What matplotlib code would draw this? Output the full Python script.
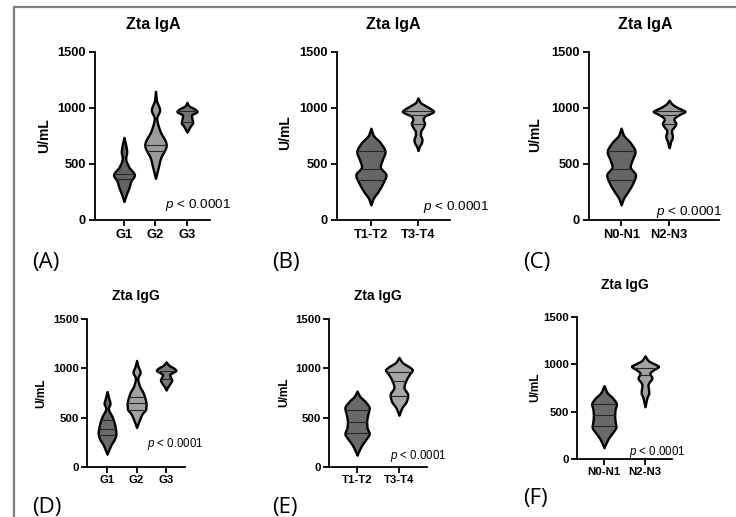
import numpy as np
import matplotlib
matplotlib.use("Agg")
import matplotlib.pyplot as plt
from matplotlib.lines import Line2D

plt.rcParams["font.family"] = ["Liberation Sans", "DejaVu Sans"]
plt.rcParams["mathtext.fontset"] = "custom"
plt.rcParams["mathtext.it"] = "Liberation Sans:italic"
plt.rcParams["mathtext.rm"] = "Liberation Sans"

# ── Violin outlines: y values (U/mL) and half widths, plus the drawn quartile lines ──
# (A) Zta IgA by G
a_labels = ["G1", "G2", "G3"]
a_g1_y = [738, 670, 610, 551, 476, 402, 342, 298, 238, 165]
a_g1_w = [0, .054, .086, .054, .15, .33, .21, .17, .086, 0]
a_g1_q = [410, 362]
a_g2_y = [1150, 1071, 982, 908, 804, 670, 551, 461, 372]
a_g2_w = [0, .03, .13, .04, .13, .34, .16, .08, 0]
a_g2_q = [670, 620]
a_g3_y = [1050, 1020, 990, 970, 935, 900, 870, 840, 810, 785]
a_g3_w = [0, .06, .25, .32, .14, .16, .18, .11, .05, 0]
a_g3_q = [970, 875]

# (B) Zta IgA by T
b_labels = ["T1-T2", "T3-T4"]
b_t12_y = [820, 759, 685, 610, 536, 476, 402, 327, 253, 193, 135]
b_t12_w = [0, .05, .21, .30, .24, .20, .32, .25, .15, .05, 0]
b_t12_q = [620, 455, 360]
b_t34_y = [1090, 1050, 1020, 990, 970, 950, 930, 900, 860, 830, 790, 760, 720, 690, 660, 620]
b_t34_w = [0, .05, .16, .28, .33, .26, .15, .11, .14, .11, .057, .053, .085, .074, .032, 0]
b_t34_q = [975, 940, 860]

# (C) Zta IgA by N
c_labels = ["N0-N1", "N2-N3"]
c_n01_y = [820, 759, 685, 610, 536, 476, 402, 327, 253, 193, 135]
c_n01_w = [0, .05, .20, .29, .23, .19, .30, .24, .14, .05, 0]
c_n01_q = [620, 455, 360]
c_n23_y = [1070, 1040, 1010, 985, 970, 950, 930, 900, 860, 830, 800, 780, 755, 730, 700, 670, 645]
c_n23_w = [0, .05, .15, .27, .33, .25, .17, .10, .14, .10, .052, .052, .069, .063, .031, .017, 0]
c_n23_q = [975, 935, 860]

# (D) Zta IgG by G
d_labels = ["G1", "G2", "G3"]
d_g1_y = [765, 696, 645, 595, 510, 426, 340, 291, 223, 130]
d_g1_w = [0, .058, .10, .044, .17, .26, .30, .26, .13, 0]
d_g1_q = [480, 385, 320]
d_g2_y = [1080, 1020, 960, 900, 820, 760, 700, 640, 590, 540, 480, 400]
d_g2_w = [0, .05, .12, .04, .10, .21, .28, .32, .31, .19, .10, 0]
d_g2_q = [705, 645, 575]
d_g3_y = [1065, 1030, 1000, 980, 955, 935, 910, 880, 850, 810, 780]
d_g3_w = [0, .10, .27, .33, .20, .12, .15, .19, .14, .05, 0]
d_g3_q = [970, 890]

# (E) Zta IgG by T
e_labels = ["T1-T2", "T3-T4"]
e_t12_y = [770, 720, 660, 600, 520, 460, 400, 340, 280, 220, 150, 120]
e_t12_w = [0, .06, .20, .29, .25, .23, .24, .29, .21, .11, .03, 0]
e_t12_q = [580, 460, 345]
e_t34_y = [1110, 1060, 1010, 985, 940, 880, 810, 730, 670, 600, 525]
e_t34_w = [0, .08, .26, .32, .25, .17, .12, .21, .18, .07, 0]
e_t34_q = [965, 870, 720]

# (F) Zta IgG by N
f_labels = ["N0-N1", "N2-N3"]
f_n01_y = [775, 700, 640, 580, 520, 460, 400, 340, 280, 220, 150, 120]
f_n01_w = [0, .08, .22, .30, .27, .26, .27, .29, .21, .11, .03, 0]
f_n01_q = [580, 465, 350]
f_n23_y = [1090, 1040, 1000, 980, 940, 905, 855, 810, 780, 740, 700, 650, 600, 552]
f_n23_w = [0, .08, .25, .33, .20, .12, .17, .10, .073, .085, .093, .05, .024, 0]
f_n23_q = [960, 890]

P_TEXT = "< 0.0001"


def pchip(x, y, xx):
    # monotone cubic through the read-off points: rounded bulges, no overshoot
    h = np.diff(x)
    d = np.diff(y) / h
    m = np.zeros_like(y)
    m[0], m[-1] = d[0], d[-1]
    for i in range(1, len(x) - 1):
        if d[i - 1] * d[i] > 0:
            w1 = 2 * h[i] + h[i - 1]
            w2 = h[i] + 2 * h[i - 1]
            m[i] = (w1 + w2) / (w1 / d[i - 1] + w2 / d[i])
    idx = np.clip(np.searchsorted(x, xx) - 1, 0, len(x) - 2)
    t = (xx - x[idx]) / h[idx]
    h00 = 2 * t**3 - 3 * t**2 + 1
    h10 = t**3 - 2 * t**2 + t
    h01 = -2 * t**3 + 3 * t**2
    h11 = t**3 - t**2
    return (h00 * y[idx] + h10 * h[idx] * m[idx]
            + h01 * y[idx + 1] + h11 * h[idx] * m[idx + 1])


def violin(ax, x, ys, ws, qs, color):
    ys = np.asarray(ys, float)
    ws = np.asarray(ws, float)
    order = np.argsort(ys)
    ys, ws = ys[order], ws[order]
    yy = np.linspace(ys.min(), ys.max(), 500)
    w = np.clip(pchip(ys, ws, yy), 0, None)
    ax.fill_betweenx(yy, x - w, x + w, facecolor=color, edgecolor="black",
                     linewidth=1.7, zorder=3)
    for q in qs:
        wq = np.interp(q, yy, w)
        ax.plot([x - wq, x + wq], [q, q], color="#262626", lw=0.8, zorder=4)


def panel(rect, title, labels, violins, xlim, title_pos, ylab_pos, p_pos, big):
    ax = fig.add_axes(rect)
    tick_fs = 9.3 if big else 8.2
    for i, (ys, ws, qs, col) in enumerate(violins):
        violin(ax, i + 1, ys, ws, qs, col)
    ax.set_ylim(0, 1500)
    ax.set_yticks([0, 500, 1000, 1500])
    ax.set_xlim(*xlim)
    ax.set_xticks(range(1, len(labels) + 1))
    ax.set_xticklabels(labels)
    for s in ["top", "right"]:
        ax.spines[s].set_visible(False)
    for s in ["left", "bottom"]:
        ax.spines[s].set_linewidth(1.3)
    ax.tick_params(direction="out", length=4.5 if big else 4, width=1.3,
                   labelsize=tick_fs, pad=2)
    for lbl in ax.get_xticklabels() + ax.get_yticklabels():
        lbl.set_fontweight("bold")
    ax.text(title_pos[0], title_pos[1], title, transform=ax.transAxes,
            ha="center", va="baseline", fontsize=11.5 if big else 10,
            fontweight="bold")
    ax.text(ylab_pos[0], ylab_pos[1], "U/mL", transform=ax.transAxes,
            rotation=90, ha="center", va="center",
            fontsize=10 if big else 8.6, fontweight="bold")
    ax.text(p_pos[0], p_pos[1], r"$\it{p}$ " + P_TEXT, ha="left", va="baseline",
            fontsize=9.7 if big else 8.3)
    return ax


fig = plt.figure(figsize=(7.36, 5.17), dpi=100)
W, H = 736.0, 517.0

# Frame lines of the composite figure
fig.add_artist(Line2D([14 / W, 1], [1 - 7 / H] * 2, color="#7f7f7f", lw=1.6,
                      transform=fig.transFigure))
fig.add_artist(Line2D([14 / W] * 2, [0, 1 - 7 / H], color="#7f7f7f", lw=1.6,
                      transform=fig.transFigure))

panel([95 / W, 1 - 220 / H, 115 / W, 168 / H], "Zta IgA", a_labels,
      [(a_g1_y, a_g1_w, a_g1_q, "#626262"),
       (a_g2_y, a_g2_w, a_g2_q, "#9c9c9c"),
       (a_g3_y, a_g3_w, a_g3_q, "#767676")],
      (0.08, 3.73), (0.504, 1.139), (-0.443, 0.5), (2.30, 104), True)

panel([337 / W, 1 - 220 / H, 113 / W, 168 / H], "Zta IgA", b_labels,
      [(b_t12_y, b_t12_w, b_t12_q, "#666666"),
       (b_t34_y, b_t34_w, b_t34_q, "#9c9c9c")],
      (0.28, 2.68), (0.496, 1.135), (-0.457, 0.518), (2.11, 89), True)

panel([589 / W, 1 - 220 / H, 130 / W, 168 / H], "Zta IgA", c_labels,
      [(c_n01_y, c_n01_w, c_n01_q, "#666666"),
       (c_n23_y, c_n23_w, c_n23_q, "#9c9c9c")],
      (0.33, 3.04), (0.43, 1.135), (-0.413, 0.506), (1.73, 45), True)

panel([87 / W, 1 - 467 / H, 98 / W, 148 / H], "Zta IgG", d_labels,
      [(d_g1_y, d_g1_w, d_g1_q, "#6a6a6a"),
       (d_g2_y, d_g2_w, d_g2_q, "#a2a2a2"),
       (d_g3_y, d_g3_w, d_g3_q, "#7a7a7a")],
      (0.32, 3.64), (0.495, 1.128), (-0.462, 0.498), (2.36, 200), False)

panel([329 / W, 1 - 467 / H, 98 / W, 148 / H], "Zta IgG", e_labels,
      [(e_t12_y, e_t12_w, e_t12_q, "#696969"),
       (e_t34_y, e_t34_w, e_t34_q, "#a6a6a6")],
      (0.33, 2.67), (0.495, 1.128), (-0.456, 0.503), (1.79, 78), False)

panel([577 / W, 1 - 459 / H, 95 / W, 142 / H], "Zta IgG", f_labels,
      [(f_n01_y, f_n01_w, f_n01_q, "#696969"),
       (f_n23_y, f_n23_w, f_n23_q, "#a2a2a2")],
      (0.34, 2.66), (0.50, 1.197), (-0.442, 0.503), (1.61, 42), False)

# Panel letters
for txt, x, y in [("(A)", 32, 268), ("(B)", 272, 268), ("(C)", 523, 268),
                  ("(D)", 32, 513), ("(E)", 272, 513), ("(F)", 523, 504)]:
    fig.text(x / W, 1 - y / H, txt, ha="left", va="baseline", fontsize=16,
             family=["Open Sans", "DejaVu Sans"])

fig.savefig("out.png", dpi=100, facecolor="white")
